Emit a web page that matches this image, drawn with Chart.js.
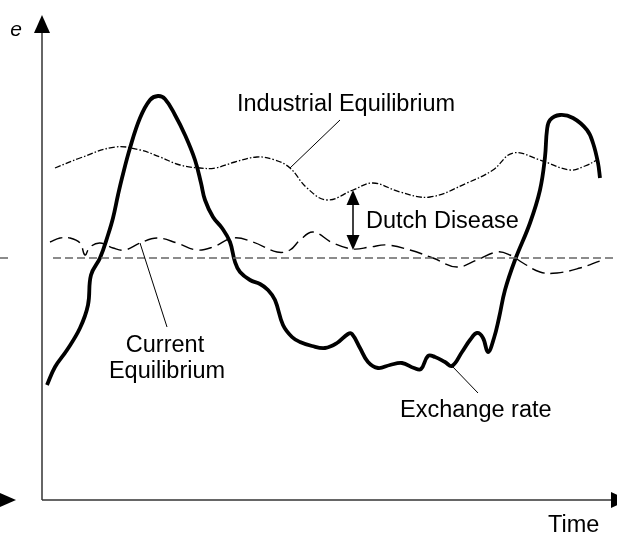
<!DOCTYPE html>
<html lang="en">

<head>
    <meta charset="UTF-8" />
    <title>Dutch Disease</title>
    <style>
        body {
            margin: 0;
            overflow: hidden;
            background: #fff;
        }

        #wrap {
            width: 617px;
            height: 534px;
        }
    </style>
</head>

<body>
    <div id="wrap"><canvas id="chart" width="617" height="534"></canvas></div>

    <script src="https://cdn.jsdelivr.net/npm/chart.js"></script>

    <script>
        // time (x) and exchange rate level e (y)
        const rateTime = [5, 13, 25, 38, 46, 49, 58, 66, 71, 76, 80, 88, 98, 108, 116, 123, 133, 143, 153, 159, 163, 171, 180, 188, 193, 198, 208, 218, 226, 233, 241, 250, 258, 270, 283, 295, 306, 310, 318, 326, 336, 348, 360, 372, 379, 386, 393, 403, 410, 420, 428, 435, 441, 446, 452, 457, 463, 473, 488, 498, 503, 505, 508, 518, 531, 545, 551, 556, 558];
        const rateValue = [115, 133, 150, 172, 195, 225, 242, 265, 282, 305, 322, 352, 382, 400, 404, 401, 385, 365, 340, 317, 300, 283, 272, 258, 238, 228, 220, 216, 210, 200, 175, 163, 158, 154, 152, 157, 166, 166, 152, 138, 132, 135, 137, 132, 131, 144, 143, 138, 134, 148, 160, 167, 162, 148, 162, 182, 210, 240, 277, 310, 343, 370, 380, 385, 382, 370, 357, 337, 322];

        const industrialTime = [13, 38, 73, 98, 118, 138, 158, 173, 193, 215, 233, 248, 265, 285, 311, 331, 358, 388, 425, 451, 471, 498, 528, 543, 555];
        const industrialValue = [332, 342, 353, 350, 343, 335, 332, 332, 338, 343, 340, 332, 312, 300, 310, 317, 308, 303, 317, 330, 347, 340, 330, 334, 340];

        const currentTime = [8, 18, 28, 38, 43, 48, 58, 71, 83, 98, 115, 135, 155, 171, 191, 211, 235, 248, 258, 271, 291, 311, 328, 345, 368, 391, 415, 435, 455, 468, 481, 498, 515, 538, 558];
        const currentValue = [258, 262, 262, 257, 245, 253, 257, 252, 250, 257, 262, 257, 250, 253, 262, 258, 248, 250, 260, 268, 257, 251, 253, 255, 250, 242, 233, 240, 248, 245, 237, 228, 227, 232, 239];

        const parityLevel = 242;
        const parityRanges = [[-42, -34], [11, 575]];

        const gap = { industrial: 311, top: 310, bottom: 250 };

        const toPoints = (xs, ys) => xs.map((x, i) => ({ x: x, y: ys[i] }));

        const parityPoints = [];
        parityRanges.forEach((r, i) => {
            if (i > 0) parityPoints.push({ x: r[0], y: null });
            parityPoints.push({ x: r[0], y: parityLevel }, { x: r[1], y: parityLevel });
        });

        const FONT = '"Liberation Sans", Arial, sans-serif';

        function arrowHead(ctx, x, y, dir, len, half) {
            // dir: 'up', 'down', 'right'
            ctx.beginPath();
            if (dir === 'up') {
                ctx.moveTo(x, y); ctx.lineTo(x - half, y + len); ctx.lineTo(x + half, y + len);
            } else if (dir === 'down') {
                ctx.moveTo(x, y); ctx.lineTo(x - half, y - len); ctx.lineTo(x + half, y - len);
            } else {
                ctx.moveTo(x, y); ctx.lineTo(x - len, y - half); ctx.lineTo(x - len, y + half);
            }
            ctx.closePath();
            ctx.fill();
        }

        function line(ctx, x1, y1, x2, y2) {
            ctx.beginPath();
            ctx.moveTo(x1, y1);
            ctx.lineTo(x2, y2);
            ctx.stroke();
        }

        const sketchPlugin = {
            id: 'sketch',
            afterDatasetsDraw(chart) {
                const ctx = chart.ctx;
                const xs = chart.scales.x, ys = chart.scales.y;
                const px = v => xs.getPixelForValue(v);
                const py = v => ys.getPixelForValue(v);
                const ox = px(0), oy = py(0);

                ctx.save();
                // axes
                ctx.strokeStyle = '#333';
                ctx.fillStyle = '#000';
                ctx.lineWidth = 1.5;
                line(ctx, ox, oy, ox, 30);
                arrowHead(ctx, ox, 15, 'up', 18, 8);
                line(ctx, ox, oy, chart.width, oy);
                arrowHead(ctx, chart.width + 12, oy, 'right', 18, 8);
                arrowHead(ctx, 16, oy, 'right', 18, 8);

                // Dutch disease gap arrow
                ctx.lineWidth = 1.5;
                ctx.strokeStyle = '#000';
                const ax = px(gap.industrial);
                const top = py(gap.top), bot = py(gap.bottom);
                line(ctx, ax, top + 10, ax, bot - 10);
                arrowHead(ctx, ax, top, 'up', 15, 6.5);
                arrowHead(ctx, ax, bot, 'down', 15, 6.5);

                // leader lines
                ctx.lineWidth = 1;
                line(ctx, px(298), py(380), px(248), py(332));
                line(ctx, px(98), py(257), px(125), py(173));
                line(ctx, px(410), py(134), px(436), py(107));

                // labels
                ctx.fillStyle = '#000';
                ctx.font = '23.5px ' + FONT;
                ctx.textBaseline = 'alphabetic';
                ctx.textAlign = 'left';
                ctx.fillText('Industrial Equilibrium', 237, 111);
                ctx.fillText('Dutch Disease', 366, 228);
                ctx.fillText('Exchange rate', 400, 417);
                ctx.fillText('Time', 548, 532);
                ctx.textAlign = 'center';
                ctx.fillText('Current', 165, 352);
                ctx.fillText('Equilibrium', 167, 378);
                ctx.font = 'italic 21px ' + FONT;
                ctx.fillText('e', 16, 36);
                ctx.restore();
            }
        };

        new Chart(document.getElementById('chart'), {
            type: 'line',
            data: {
                datasets: [
                    {
                        label: 'Parity',
                        data: parityPoints,
                        borderColor: '#666',
                        borderWidth: 1.3,
                        borderDash: [8, 4],
                        pointRadius: 0,
                        spanGaps: false,
                        tension: 0
                    },
                    {
                        label: 'Industrial Equilibrium',
                        data: toPoints(industrialTime, industrialValue),
                        borderColor: '#000',
                        borderWidth: 1.3,
                        borderDash: [6, 2, 1.5, 2],
                        pointRadius: 0,
                        tension: 0.4
                    },
                    {
                        label: 'Current Equilibrium',
                        data: toPoints(currentTime, currentValue),
                        borderColor: '#000',
                        borderWidth: 1.4,
                        borderDash: [13, 6],
                        pointRadius: 0,
                        tension: 0.4
                    },
                    {
                        label: 'Exchange rate',
                        data: toPoints(rateTime, rateValue),
                        borderColor: '#000',
                        borderWidth: 3.8,
                        pointRadius: 0,
                        tension: 0.4,
                        borderCapStyle: 'butt'
                    }
                ]
            },
            options: {
                responsive: false,
                animation: false,
                events: [],
                layout: { padding: 0 },
                plugins: {
                    legend: { display: false },
                    tooltip: { enabled: false }
                },
                scales: {
                    x: { type: 'linear', min: -42, max: 575, display: false },
                    y: { type: 'linear', min: -34, max: 500, display: false }
                }
            },
            plugins: [sketchPlugin]
        });
    </script>
</body>

</html>
